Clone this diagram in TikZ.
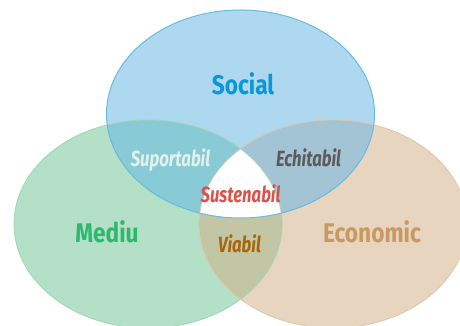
\documentclass[tikz,border=0pt]{standalone}
\usepackage{fontspec}
\newfontfamily\vfont[FakeStretch=0.84]{Fira Sans}
\newfontfamily\ifont[FakeStretch=0.76]{Fira Sans}
\definecolor{socfill}{HTML}{AED8F0}
\definecolor{medfill}{HTML}{B3E0C6}
\definecolor{ecofill}{HTML}{E8D5BF}
\definecolor{smfill}{HTML}{88CAD5}
\definecolor{sefill}{HTML}{A2C4D4}
\definecolor{mefill}{HTML}{C3C6A5}
\definecolor{socline}{HTML}{66BCE2}
\definecolor{medline}{HTML}{9ED6B6}
\definecolor{ecoline}{HTML}{DCC8AE}
\definecolor{soctext}{HTML}{0A98D8}
\definecolor{medtext}{HTML}{2DB870}
\definecolor{ecotext}{HTML}{C89A62}
\definecolor{suptext}{HTML}{E2F2EA}
\definecolor{echtext}{HTML}{5E5A5C}
\definecolor{sustext}{HTML}{D9534A}
\definecolor{viatext}{HTML}{A8650A}
\begin{document}
\begin{tikzpicture}[x=1pt,y=1pt,
  bigtxt/.style={font=\vfont\bfseries\fontsize{27}{29}\selectfont, anchor=base, inner sep=0pt},
  midtxt/.style={font=\ifont\bfseries\itshape\fontsize{22}{24}\selectfont, anchor=base, inner sep=0pt}]
\useasboundingbox (0,0) rectangle (460,326);
\def\soc{(240.5,212) ellipse [x radius=134, y radius=104]}
\def\med{(148,102) ellipse [x radius=134, y radius=104]}
\def\eco{(333,102) ellipse [x radius=134, y radius=104]}
\begin{scope}
\clip (0,0) rectangle (460,326);
\fill[medfill] \med;
\fill[ecofill] \eco;
\begin{scope}\clip \med; \fill[mefill] \eco; \end{scope}
\fill[socfill] \soc;
\begin{scope}\clip \soc; \fill[smfill] \med; \end{scope}
\begin{scope}\clip \soc; \fill[sefill] \eco; \end{scope}
\begin{scope}\clip \soc; \clip \med; \fill[white] \eco; \end{scope}
\draw[medline, line width=0.8pt] \med;
\draw[ecoline, line width=0.8pt] \eco;
\draw[socline, line width=1pt] \soc;
\end{scope}
\node[bigtxt, text=soctext] (social) at (243,231) {Social};
\node[bigtxt, text=medtext] (mediu) at (107,83) {Mediu};
\node[bigtxt, text=ecotext] (economic) at (372,83) {Economic};
\node[midtxt, text=suptext] (suportabil) at (170.5,159) {Suportabil};
\node[midtxt, text=echtext] (echitabil) at (308.5,159) {Echitabil};
\node[midtxt, text=sustext] (sustenabil) at (240.5,123) {Sustenabil};
\node[midtxt, text=viatext] (viabil) at (239.5,73) {Viabil};
\end{tikzpicture}
\end{document}
